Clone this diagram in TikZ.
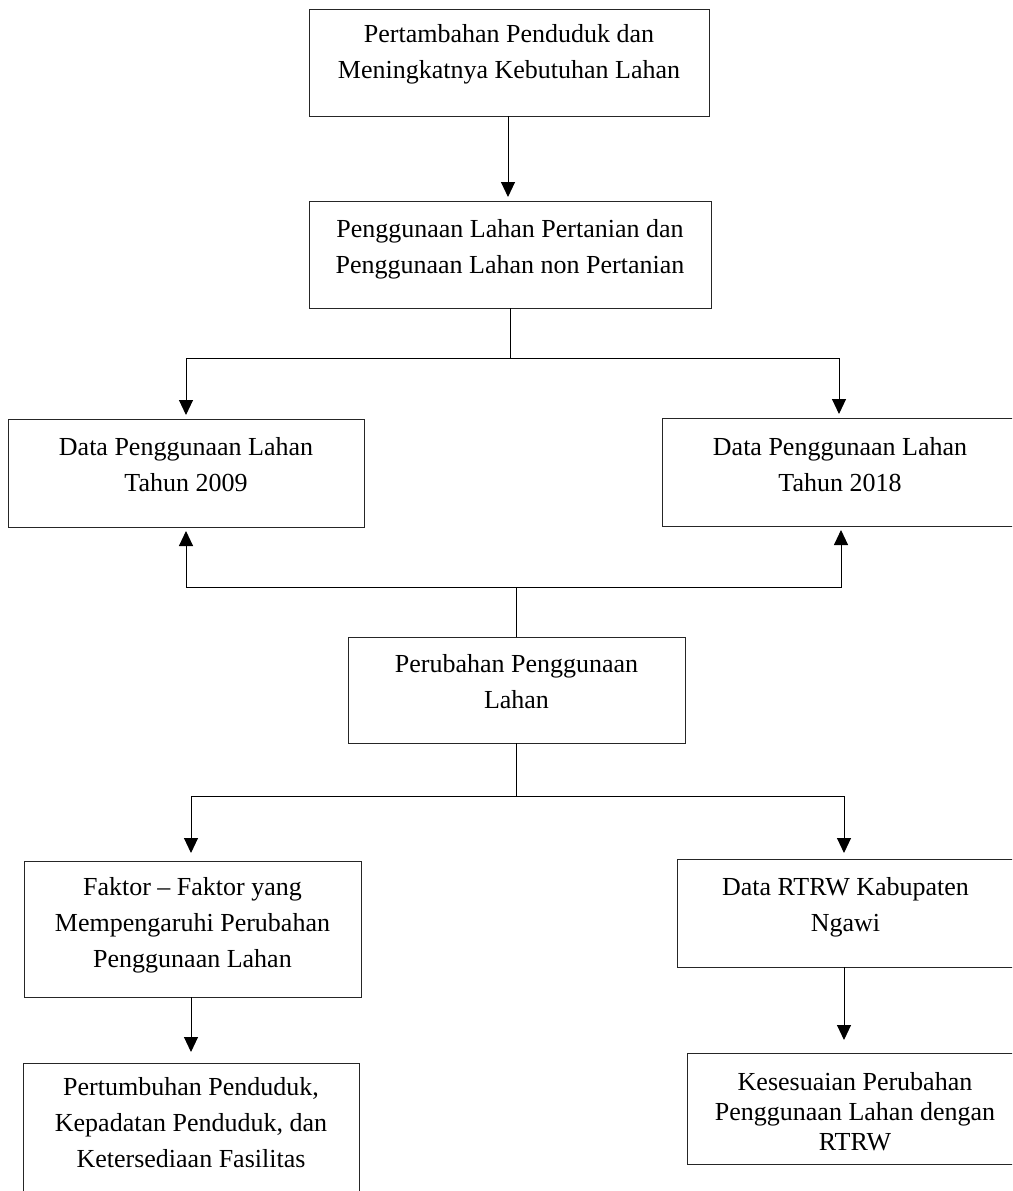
\documentclass[tikz,border=0pt]{standalone}
\usepackage{fontspec}
\setmainfont{Liberation Serif}
\usetikzlibrary{arrows.meta}
\tikzset{
  box/.style={draw=black!85, line width=1pt, rectangle, inner sep=0pt, outer sep=0pt, anchor=north west},
  txt/.style={anchor=north, inner sep=0pt, align=center, font=\fontsize{26}{36}\selectfont},
  conn/.style={line width=1pt},
  arr/.style={line width=1pt, -{Triangle[width=14pt,length=15pt]}},
}
\begin{document}
\begin{tikzpicture}[x=1pt,y=-1pt]
\clip (0,0) rectangle (1012,1191);
\fill[white] (0,0) rectangle (1012,1191);
% boxes
\node[box, minimum width=400pt, minimum height=107pt] (b1) at (309,9) {};
\node[box, minimum width=402pt, minimum height=107pt] (b2) at (309,201) {};
\node[box, minimum width=356pt, minimum height=108pt] (b3) at (8,419) {};
\node[box, minimum width=356pt, minimum height=108pt] (b4) at (662,418) {};
\node[box, minimum width=337pt, minimum height=106pt] (b5) at (348,637) {};
\node[box, minimum width=337pt, minimum height=136pt] (b6) at (24,861) {};
\node[box, minimum width=337pt, minimum height=108pt] (b7) at (677,859) {};
\node[box, minimum width=336pt, minimum height=140pt] (b8) at (23,1063) {};
\node[box, minimum width=336pt, minimum height=111pt] (b9) at (687,1053) {};
% texts
\node[txt] (t1) at ([yshift=-15pt]b1.north) {Pertambahan Penduduk dan\\Meningkatnya Kebutuhan Lahan};
\node[txt] (t2) at ([yshift=-18pt]b2.north) {Penggunaan Lahan Pertanian dan\\Penggunaan Lahan non Pertanian};
\node[txt] (t3) at ([yshift=-18pt]b3.north) {Data Penggunaan Lahan\\Tahun 2009};
\node[txt] (t4) at ([yshift=-19pt]b4.north) {Data Penggunaan Lahan\\Tahun 2018};
\node[txt] (t5) at ([yshift=-17pt]b5.north) {Perubahan Penggunaan\\Lahan};
\node[txt] (t6) at ([yshift=-16pt]b6.north) {Faktor -- Faktor yang\\Mempengaruhi Perubahan\\Penggunaan Lahan};
\node[txt] (t7) at ([yshift=-18pt]b7.north) {Data RTRW Kabupaten\\Ngawi};
\node[txt] (t8) at ([yshift=-14pt]b8.north) {Pertumbuhan Penduduk,\\Kepadatan Penduduk, dan\\Ketersediaan Fasilitas};
\node[txt, font=\fontsize{26}{30}\selectfont] (t9) at ([yshift=-19pt]b9.north) {Kesesuaian Perubahan\\Penggunaan Lahan dengan\\RTRW};
% connectors
\draw[arr, shorten >=4pt] ([xshift=-1pt]b1.south) -- ([xshift=-1pt]b1.south |- b2.north);
\draw[conn] (b2.south) -- ++(0,50) coordinate (j1);
\draw[arr, shorten >=4pt] (j1) -| (b3.north);
\draw[arr, shorten >=4pt] (j1) -| ([xshift=-1pt]b4.north);
\draw[conn] (b5.north) -- ++(0,-50) coordinate (j2);
\draw[arr, shorten >=4pt] (j2) -| (b3.south);
\draw[arr, shorten >=4pt] (j2) -| ([xshift=1pt]b4.south);
\draw[conn] (b5.south) -- ++(0,53) coordinate (j3);
\draw[arr, shorten >=8pt] (j3) -| ([xshift=-1.5pt]b6.north);
\draw[arr, shorten >=6pt] (j3) -| ([xshift=-1.5pt]b7.north);
\draw[arr, shorten >=11pt] ([xshift=-1.5pt]b6.south) -- ([xshift=-1.5pt]b6.south |- b8.north);
\draw[arr, shorten >=13pt] ([xshift=-1.5pt]b7.south) -- ([xshift=-1.5pt]b7.south |- b9.north);
\end{tikzpicture}
\end{document}
